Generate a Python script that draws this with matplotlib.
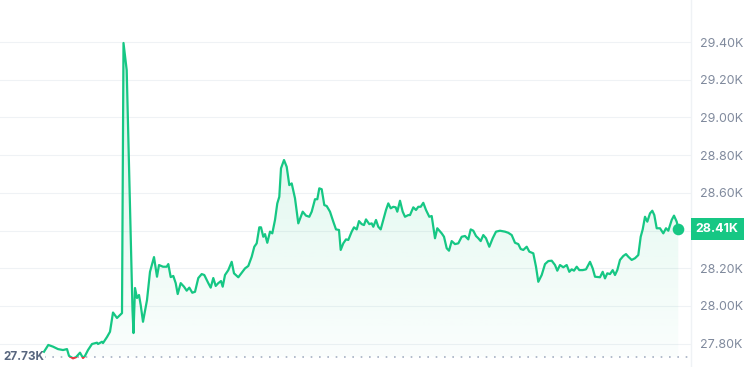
import numpy as np
import matplotlib
matplotlib.use("Agg")
import matplotlib.pyplot as plt
from matplotlib.patches import Rectangle
from matplotlib.colors import to_rgb
from matplotlib.path import Path

plt.rcParams['font.family'] = ['Inter', 'DejaVu Sans']

# time position along the chart and price in thousands
t = [0, 4.3, 9, 14, 19, 23, 25, 29, 32, 36, 39, 41, 44, 48, 53, 54, 58, 59,
     63, 66, 69, 73, 78, 79.5, 82.7, 88.5, 89.5, 91, 93, 95, 96.7, 99, 103, 106,
     110, 113, 115, 119, 122.7, 124.3, 126.7, 129.3, 131.7, 133.7, 136.7, 140,
     142.7, 145.3, 148.3, 151, 154.3, 157.7, 160.3, 164.3, 166.7, 169.3, 171.7,
     174.3, 177, 178.7, 181, 184.3, 187.7, 190, 194.3, 197.7, 201, 204.3, 207.7,
     210.3, 212.7, 215.3, 217, 219.3, 221, 223.3, 226, 228.3, 231, 233.3, 235.3,
     237, 240, 242.7, 245.3, 247.7, 251, 254.3, 258.7, 262, 265.3, 267.7, 271,
     273.3, 275.3, 277.7, 280.3, 282.7, 286, 289.3, 292, 295, 296.7, 299.3,
     302, 304.3, 307.7, 310, 312.7, 315, 317.7, 320, 322, 325.3, 327.7, 329.3,
     332, 334.3, 336.7, 339.3, 342, 344.3, 346.7, 349.3, 351.7, 353.3, 356,
     358.7, 361, 364.3, 366, 369.3, 372, 374.3, 376.7, 379.3, 382, 385.3, 387.7,
     391, 393.3, 397.7, 400, 402.7, 405, 407.7, 411, 414.3, 417.7, 421, 424.3,
     426.7, 429.3, 432, 434.3, 436.7, 439.3, 442, 445.3, 448.7, 452, 456, 461,
     464.3, 467.7, 471, 474.3, 476.7, 479.3, 482.7, 485.3, 489.3, 492, 494.3,
     497.7, 501, 504.3, 507.7, 511, 513.3, 516, 519.3, 522.7, 525.3, 527.7, 530,
     532.7, 535.3, 538.7, 542, 546, 548.7, 551, 556, 558.7, 561, 563.3, 566,
     568.7, 571, 573.3, 576, 579.3, 582, 584.3, 587.7, 591, 594.3, 596.7, 598.7,
     601, 603.3, 606, 608.3, 610.3, 612.7, 616, 619.3, 622, 624.3, 627.7, 630,
     632.7, 634.3]
price = [27.757, 27.793, 27.784, 27.771, 27.766, 27.771, 27.735, 27.722,
         27.728, 27.752, 27.724, 27.735, 27.766, 27.798, 27.805, 27.798, 27.810,
         27.803, 27.835, 27.863, 27.965, 27.936, 27.962, 29.395, 29.251, 27.978,
         27.856, 28.095, 28.042, 28.058, 28.005, 27.916, 28.031, 28.181, 28.259,
         28.155, 28.217, 28.208, 28.208, 28.222, 28.153, 28.159, 28.121, 28.063,
         28.121, 28.102, 28.081, 28.097, 28.070, 28.075, 28.148, 28.169, 28.164,
         28.121, 28.097, 28.148, 28.106, 28.121, 28.132, 28.102, 28.164, 28.190,
         28.234, 28.173, 28.152, 28.176, 28.199, 28.212, 28.261, 28.314, 28.332,
         28.417, 28.417, 28.367, 28.381, 28.335, 28.394, 28.385, 28.456, 28.544,
         28.579, 28.730, 28.774, 28.738, 28.641, 28.650, 28.571, 28.438, 28.500,
         28.479, 28.473, 28.500, 28.566, 28.566, 28.624, 28.619, 28.535, 28.530,
         28.500, 28.447, 28.406, 28.403, 28.297, 28.332, 28.353, 28.350, 28.394,
         28.417, 28.406, 28.450, 28.434, 28.429, 28.459, 28.434, 28.438, 28.420,
         28.456, 28.420, 28.406, 28.456, 28.509, 28.544, 28.518, 28.526, 28.523,
         28.500, 28.558, 28.500, 28.473, 28.482, 28.482, 28.523, 28.509, 28.526,
         28.526, 28.547, 28.509, 28.473, 28.477, 28.359, 28.412, 28.385, 28.367,
         28.306, 28.293, 28.344, 28.328, 28.332, 28.367, 28.371, 28.353, 28.406,
         28.399, 28.371, 28.359, 28.344, 28.376, 28.359, 28.314, 28.359, 28.394,
         28.399, 28.394, 28.388, 28.376, 28.335, 28.328, 28.302, 28.297, 28.314,
         28.288, 28.279, 28.208, 28.128, 28.164, 28.222, 28.238, 28.240, 28.217,
         28.187, 28.217, 28.205, 28.217, 28.181, 28.194, 28.187, 28.208, 28.190,
         28.190, 28.194, 28.234, 28.199, 28.155, 28.152, 28.181, 28.146, 28.173,
         28.169, 28.190, 28.164, 28.190, 28.244, 28.265, 28.275, 28.261, 28.244,
         28.253, 28.270, 28.367, 28.406, 28.473, 28.447, 28.491, 28.505, 28.482,
         28.412, 28.412, 28.385, 28.412, 28.399, 28.456, 28.479, 28.447, 28.410]

open_price = 27.73
y_ticks = [27.8, 28.0, 28.2, 28.4, 28.6, 28.8, 29.0, 29.2, 29.4]
y_labels = ["27.80K", "28.00K", "28.20K", "", "28.60K", "28.80K", "29.00K",
            "29.20K", "29.40K"]
last_label = "28.41K"

GREEN = "#16c784"
RED = "#ea3943"
GREY = "#808a9d"

t = np.array(t)
price = np.array(price)

fig = plt.figure(figsize=(7.49, 3.67), dpi=100)
ax = fig.add_axes([0, 0, 691 / 749, 1])
XLIM = (-44, 647)
YLIM = (27.676, 29.623)

# grid + right axis
for y in y_ticks:
    ax.axhline(y, color="#eff2f5", lw=0.8, zorder=0)
ax.yaxis.tick_right()
ax.set_yticks(y_ticks)
ax.set_yticklabels(y_labels)
ax.tick_params(axis="y", length=0, pad=6.5, labelsize=9, labelcolor=GREY)
ax.set_xticks([])
for s in ["top", "left", "bottom"]:
    ax.spines[s].set_visible(False)
ax.spines["right"].set_color("#eff2f5")
ax.spines["right"].set_linewidth(1)

# gradient area under the line
poly = ax.fill_between(t, price, open_price, where=price >= open_price,
                       interpolate=True, color="none", lw=0)
g = np.linspace(0, 1, 256).reshape(-1, 1)
img = np.ones((256, 1, 4))
img[..., :3] = np.array(to_rgb(GREEN))
img[..., 3] = 0.02 + 0.16 * g
im = ax.imshow(img, extent=[t[0], t[-1], open_price, 29.4], origin="lower",
               aspect="auto", zorder=1)
paths = poly.get_paths()
verts = np.concatenate([p.vertices for p in paths])
codes = np.concatenate([p.codes if p.codes is not None else
                        np.full(len(p.vertices), Path.LINETO) for p in paths])
im.set_clip_path(Path(verts, codes), ax.transData)
ax.set_xlim(*XLIM)
ax.set_ylim(*YLIM)

# baseline at the open price
ax.plot([t[0], XLIM[1]], [open_price, open_price], color="#a6b0c3", lw=1.2,
        ls=(0, (1, 4)), zorder=2)
ax.text(-41, open_price, f"{open_price:.2f}K", color="#58667e", fontsize=8.5,
        fontweight="bold", va="center", ha="left", zorder=3,
        bbox=dict(fc="white", ec="none", pad=0.5))

# price line, green above the open price and red below
up, = ax.plot(t, price, color=GREEN, lw=1.6, zorder=4, solid_joinstyle="round")
down, = ax.plot(t, price, color=RED, lw=1.6, zorder=4, solid_joinstyle="round")
up.set_clip_path(Rectangle((-100, open_price), 1000, 10, transform=ax.transData))
down.set_clip_path(Rectangle((-100, open_price - 10), 1000, 10,
                             transform=ax.transData))
ax.scatter([t[-1]], [price[-1]], s=70, color=GREEN, zorder=5, lw=0)

ax.annotate(last_label, xy=(1, price[-1]), xycoords=("axes fraction", "data"),
            xytext=(3.5, 0), textcoords="offset points", va="center", ha="left",
            color="white", fontsize=9, fontweight="bold",
            bbox=dict(boxstyle="square,pad=0.4", fc=GREEN, ec="none"),
            annotation_clip=False)

fig.savefig("out.png", dpi=100, facecolor="white")
